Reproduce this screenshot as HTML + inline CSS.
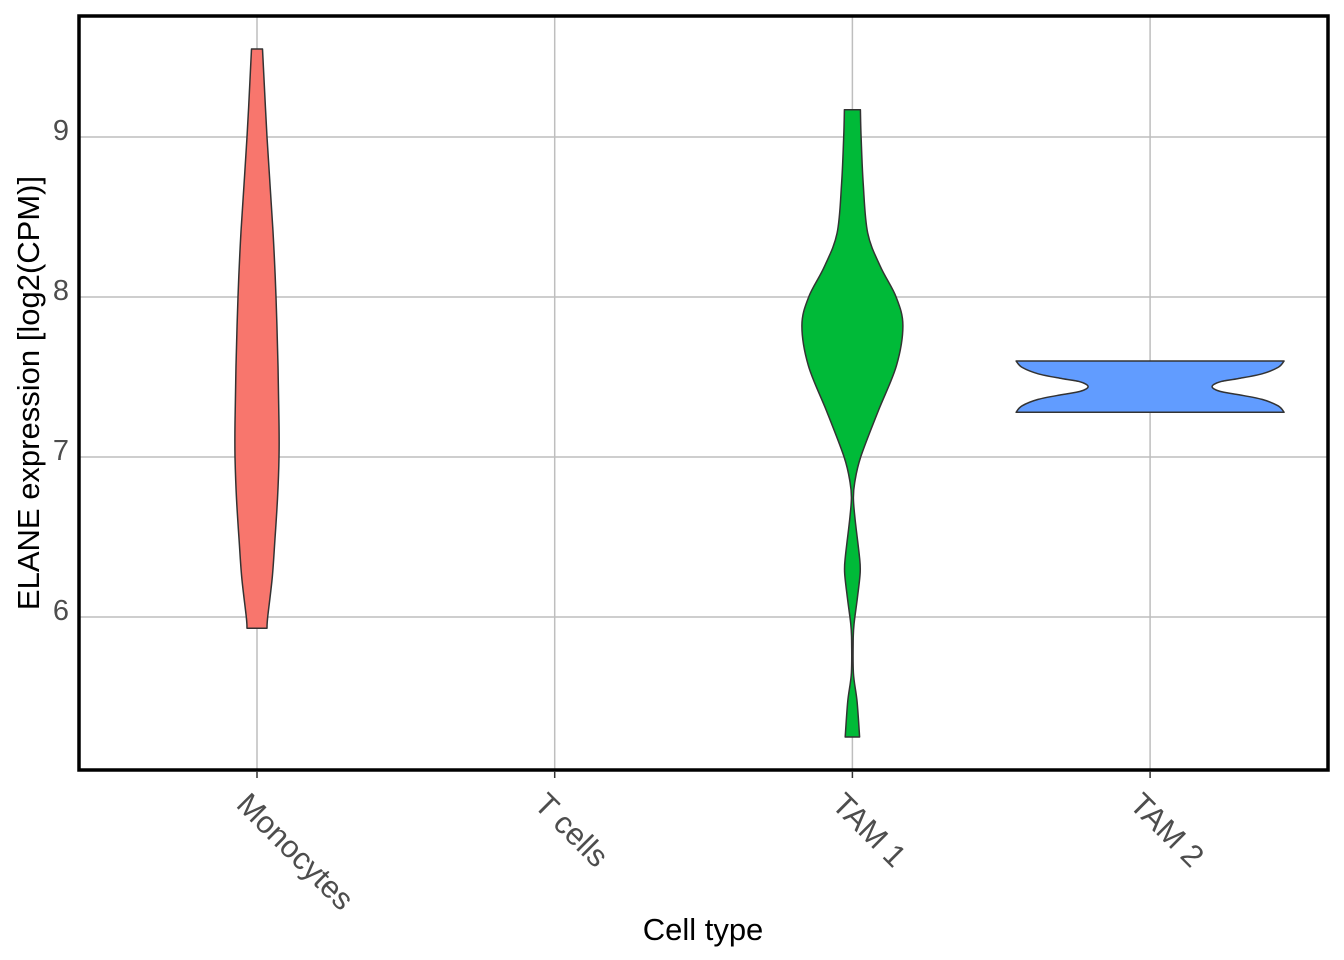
<!DOCTYPE html>
<html><head><meta charset="utf-8"><style>
html,body{margin:0;padding:0;background:#fff;}
svg{display:block;font-family:"Liberation Sans",Arial,sans-serif;}
</style></head><body>
<svg id="chart" width="1344" height="960">
<g id="grid"></g>
<g id="violins"></g>
<rect x="79" y="16" width="1249" height="754" fill="none" stroke="#000" stroke-width="3.5"/>
<g id="axes"></g>
<text x="703" y="940" font-size="31" text-anchor="middle" fill="#000">Cell type</text>
<text transform="translate(39,393) rotate(-90)" font-size="31" text-anchor="middle" fill="#000">ELANE expression [log2(CPM)]</text>
</svg>
<script>
const categories = ["Monocytes","T cells","TAM 1","TAM 2"];
const yTicks = [6,7,8,9];
const monoY = [9.55,9.0,8.41,8.0,7.57,7.21,7.0,6.74,6.49,6.25,6.0,5.93];
const monoD = [5.5,10,16,19,21,22,22,20.5,18,15.3,10.7,10];
const tam1Y = [9.17,9.0,8.71,8.4,8.19,8.0,7.82,7.57,7.29,7.0,6.84,6.74,6.61,6.38,6.28,6.12,5.96,5.86,5.65,5.47,5.25];
const tam1D = [8,8.7,10.8,15.3,28,43.7,50.5,44,26,8.3,2.3,1,2.7,7,7.8,5,1.7,0.8,1,4.7,7.2];
const tam2Y = [7.60,7.56,7.52,7.49,7.47,7.44,7.41,7.39,7.36,7.32,7.28];
const tam2D = [134,128,112,88,70,62,70,88,112,128,134];
const violinSeries = [
 {cat:"Monocytes", y:monoY, d:monoD, color:"#F8766D", name:"violin-monocytes"},
 {cat:"TAM 1", y:tam1Y, d:tam1D, color:"#00BA38", name:"violin-tam1"},
 {cat:"TAM 2", y:tam2Y, d:tam2D, color:"#619CFF", name:"violin-tam2"}
];
const NS="http://www.w3.org/2000/svg";
const xPos = c => 257 + categories.indexOf(c)*297.7;
const yPos = v => 137 + (9 - v)*160;
const widthScale = 1;
function mk(tag, attrs, parent){const e=document.createElementNS(NS,tag);for(const k in attrs)e.setAttribute(k,attrs[k]);parent.appendChild(e);return e;}
function smooth(pts){
 let d='M'+pts[0][0].toFixed(1)+','+pts[0][1].toFixed(1);
 for(let i=0;i<pts.length-1;i++){
  const p0=pts[Math.max(0,i-1)],p1=pts[i],p2=pts[i+1],p3=pts[Math.min(pts.length-1,i+2)];
  const c1=[p1[0]+(p2[0]-p0[0])/6,p1[1]+(p2[1]-p0[1])/6];
  const c2=[p2[0]-(p3[0]-p1[0])/6,p2[1]-(p3[1]-p1[1])/6];
  d+=' C'+c1.map(v=>v.toFixed(1)).join(',')+' '+c2.map(v=>v.toFixed(1)).join(',')+' '+p2.map(v=>v.toFixed(1)).join(',');
 }
 return d;
}
const grid=document.getElementById('grid'), axes=document.getElementById('axes'), vg=document.getElementById('violins');
yTicks.forEach(t=>{
 const l=mk('line',{x1:79,x2:1328,y1:yPos(t),y2:yPos(t),stroke:'#bebebe','stroke-width':1.5},grid);
 
 
 const tx=mk('text',{x:69,y:yPos(t)+3,'font-size':29,'text-anchor':'end',fill:'#4d4d4d'},axes);
 tx.textContent=t;
 
 
});
categories.forEach(c=>{
 const x=xPos(c);
 const l=mk('line',{x1:x,x2:x,y1:16,y2:770,stroke:'#bebebe','stroke-width':1.5},grid);
 
 
 const tk=mk('line',{x1:x,x2:x,y1:771,y2:778,stroke:'#333','stroke-width':1.5},axes);
 
 
 const tx=mk('text',{transform:`translate(${x-22},806) rotate(45)`,'font-size':31,fill:'#4d4d4d'},axes);
 tx.textContent=c;
 
 
});
violinSeries.forEach(s=>{
 const cx=xPos(s.cat);
 const right=s.y.map((v,i)=>[cx+s.d[i]*widthScale,yPos(v)]);
 const left=s.y.map((v,i)=>[cx-s.d[i]*widthScale,yPos(v)]).reverse();
 const d=smooth(right)+' L'+smooth(left).slice(1)+' Z';
 const p=mk('path',{d:d,fill:s.color,stroke:'#333','stroke-width':1.5,'stroke-linejoin':'round'},vg);
 
 
});
</script>
</body></html>
